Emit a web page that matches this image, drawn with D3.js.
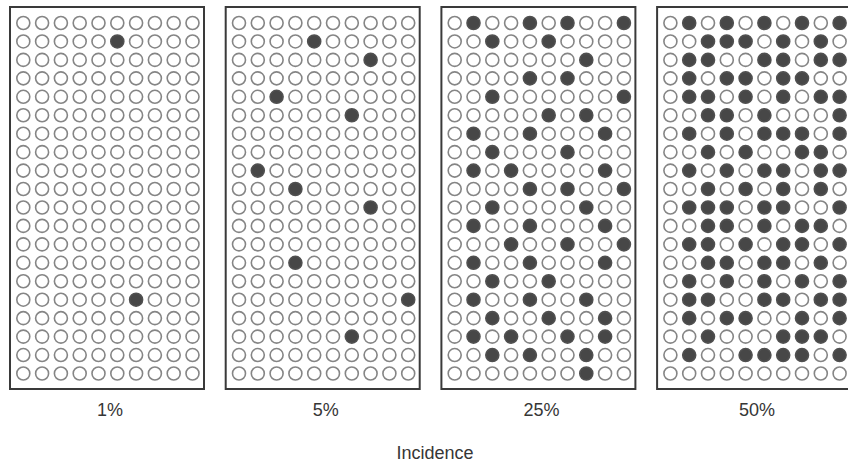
<!DOCTYPE html>
<html>
<head>
<meta charset="utf-8">
<script src="https://cdn.jsdelivr.net/npm/d3@7/dist/d3.min.js"></script>
<style>
  html, body { margin: 0; padding: 0; background: #ffffff; overflow: hidden; }
  svg { display: block; }
  text { font-family: "Liberation Sans", Arial, sans-serif; fill: #363636; }
</style>
</head>
<body>
<svg id="chart" width="848" height="468"></svg>
<script>
// ---- data ----
const categories = ["1%", "5%", "25%", "50%"];
const nCols = 10;
const nRows = 20;
const axisTitle = "Incidence";
// filled circles: for each panel, for each row (0..19), the filled column indices
const filled1 = [[],[5],[],[],[],[],[],[],[],[],[],[],[],[],[],[6],[],[],[],[]];
const filled5 = [[],[4],[7],[],[2],[6],[],[],[1],[3],[7],[],[],[3],[],[9],[],[6],[],[]];
const filled25 = [[1,4,6,9],[2,5],[7],[4,6],[2,9],[5,7],[1,4,8],[2,6],[1,3,8],[4,6,9],
                  [2,7],[1,4,8],[3,6,9],[1,4,8],[2,5],[1,4,7],[2,5,8],[1,3,6,8],[2,4,7],[7]];
const filled50 = [[1,3,5,7,9],[2,3,4,6,8],[1,2,5,6,8,9],[1,3,4,6,7],[1,2,4,6,8,9],
                  [2,3,5,9],[1,3,5,6,7,9],[2,4,7,8],[1,3,5,6,8,9],[2,4,6,8],
                  [1,2,3,5,6,9],[2,3,5,7,8],[1,2,4,6,7,9],[2,3,5,6,8],[1,3,5,7,9],
                  [1,2,5,6,8,9],[1,3,4,7,9],[2,6,7,8],[1,4,5,6,7,9],[]];
const filledSets = [filled1, filled5, filled25, filled50];

// ---- layout ----
const svg = d3.select("#chart");
const panelStep = 215.7, panelW = 194, panelTop = 7, panelH = 382;

const xPanel = d3.scaleBand()
  .domain(categories)
  .range([10, 10 + panelStep * 4 - (panelStep - panelW)])
  .paddingInner((panelStep - panelW) / panelStep)
  .paddingOuter(0)
  .align(0);

const xCol = d3.scalePoint().domain(d3.range(nCols)).range([13.3, 182.5]);
const yRow = d3.scalePoint().domain(d3.range(nRows)).range([16, 366.5]);

const cells = [];
categories.forEach((cat, pi) => {
  const set = filledSets[pi];
  for (let r = 0; r < nRows; r++) {
    for (let c = 0; c < nCols; c++) {
      cells.push({ cat, r, c, on: set[r].includes(c) });
    }
  }
});

const panels = svg.selectAll("g.panel")
  .data(categories)
  .join("g")
  .attr("class", "panel")
  .attr("transform", d => `translate(${xPanel(d)},${panelTop})`);

panels.append("rect")
  .attr("x", 0).attr("y", 0)
  .attr("width", xPanel.bandwidth())
  .attr("height", panelH)
  .attr("fill", "#ffffff")
  .attr("stroke", "#3a3a3a")
  .attr("stroke-width", 2);

panels.each(function(cat) {
  d3.select(this).selectAll("circle")
    .data(cells.filter(d => d.cat === cat))
    .join("circle")
    .attr("cx", d => xCol(d.c))
    .attr("cy", d => yRow(d.r))
    .attr("r", 6.5)
    .attr("fill", d => d.on ? "#474747" : "#ffffff")
    .attr("stroke", d => d.on ? "#505050" : "#858585")
    .attr("stroke-width", 1.6);
});

// category labels
svg.selectAll("text.cat")
  .data(categories)
  .join("text")
  .attr("class", "cat")
  .attr("x", d => xPanel(d) + xPanel.bandwidth() / 2 + 3)
  .attr("y", 416)
  .attr("text-anchor", "middle")
  .attr("font-size", 18)
  .text(d => d);

svg.append("text")
  .attr("x", 435)
  .attr("y", 459)
  .attr("text-anchor", "middle")
  .attr("font-size", 18)
  .attr("font-family", "'Liberation Sans Narrow', 'Liberation Sans', Arial, sans-serif")
  .text(axisTitle);
</script>
</body>
</html>
